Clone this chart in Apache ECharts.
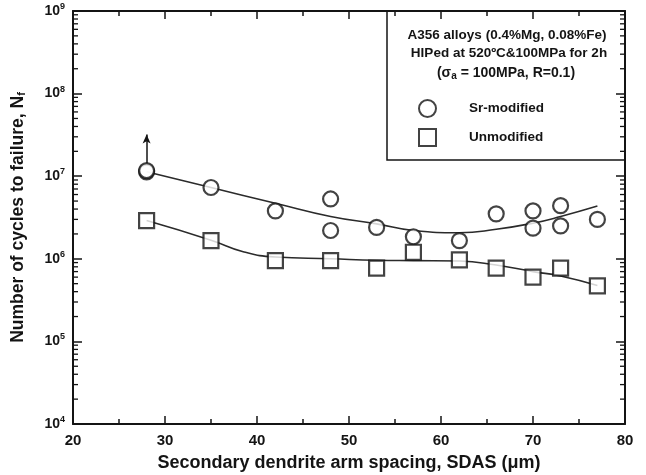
<!DOCTYPE html>
<html>
<head>
<meta charset="utf-8">
<script src="https://cdn.jsdelivr.net/npm/echarts@6/dist/echarts.min.js"></script>
<style>
  html, body { margin: 0; padding: 0; background: #fff; }
  #chart { width: 646px; height: 475px; }
</style>
</head>
<body>
<div id="chart"></div>
<script>
// Measured fatigue lives (cycles to failure) vs. secondary dendrite arm spacing
const sdasSr   = [28, 28, 35, 42, 48, 48, 53, 57, 62, 66, 70, 70, 73, 73, 77];
const cyclesSr = [1.13e7, 1.17e7, 7.3e6, 3.8e6, 5.3e6, 2.2e6, 2.4e6, 1.85e6, 1.66e6, 3.5e6, 3.8e6, 2.35e6, 4.4e6, 2.5e6, 3.0e6];

const sdasUn   = [28, 35, 42, 48, 53, 57, 62, 66, 70, 73, 77];
const cyclesUn = [2.9e6, 1.66e6, 9.5e5, 9.5e5, 7.7e5, 1.2e6, 9.7e5, 7.7e5, 6.0e5, 7.7e5, 4.7e5];

// Trend curves
const trendSrX = [28, 35, 42, 48, 53, 57, 62, 66, 70, 73, 77];
const trendSrY = [1.13e7, 7.3e6, 4.7e6, 3.25e6, 2.65e6, 2.2e6, 2.07e6, 2.28e6, 2.7e6, 3.25e6, 4.35e6];
const trendUnX = [28, 35, 38.5, 42, 48, 53, 57, 62, 66, 70, 73, 77];
const trendUnY = [2.9e6, 1.68e6, 1.22e6, 1.05e6, 1.0e6, 9.6e5, 9.5e5, 9.4e5, 8.4e5, 7.0e5, 6.2e5, 4.75e5];

// Axis ranges and log-axis minor tick positions
const xMin = 20, xMax = 80, xStep = 10;
const yMin = 1e4, yMax = 1e9;
const minorFactors = [2, 3, 4, 5, 6, 7, 8, 9];
const decades = [4, 5, 6, 7, 8];

const minorTickValues = [];
decades.forEach(d => minorFactors.forEach(f => minorTickValues.push([xMin, f * Math.pow(10, d)])));

const FONT = '"Liberation Sans", Arial, sans-serif';
const INK = '#141414';

const chart = echarts.init(document.getElementById('chart'), null, { renderer: 'canvas' });

const markerStyle = { color: '#ffffff', borderColor: INK, borderWidth: 2.2 };

chart.setOption({
  animation: false,
  backgroundColor: '#ffffff',
  grid: { left: 73, top: 11, right: 21, bottom: 51, containLabel: false, outerBoundsMode: 'none' },
  xAxis: [
    {
      type: 'value', min: xMin, max: xMax, interval: xStep,
      name: 'Secondary dendrite arm spacing, SDAS (μm)',
      nameLocation: 'middle', nameGap: 30,
      nameTextStyle: { fontFamily: FONT, fontWeight: 'bold', fontSize: 18, color: INK },
      axisLine: { lineStyle: { color: INK, width: 2 } },
      axisTick: { inside: true, length: 8, lineStyle: { color: INK, width: 1.5 } },
      minorTick: { show: true, splitNumber: 2, length: 5, lineStyle: { color: INK, width: 1.5 } },
      axisLabel: { fontFamily: FONT, fontWeight: 'bold', fontSize: 15, color: INK, margin: 9 },
      splitLine: { show: false }
    },
    {
      type: 'value', min: xMin, max: xMax, interval: xStep, position: 'top',
      axisLine: { onZero: false, lineStyle: { color: INK, width: 2 } },
      axisTick: { inside: true, length: 8, lineStyle: { color: INK, width: 1.5 } },
      minorTick: { show: true, splitNumber: 2, length: 5, lineStyle: { color: INK, width: 1.5 } },
      axisLabel: { show: false },
      splitLine: { show: false }
    }
  ],
  yAxis: [
    {
      type: 'log', min: yMin, max: yMax, logBase: 10,
      name: 'Number of cycles to failure, N{sub|f}',
      nameLocation: 'middle', nameGap: 46, nameRotate: 90,
      nameTextStyle: {
        fontFamily: FONT, fontWeight: 'bold', fontSize: 17.5, color: INK,
        rich: { sub: { fontFamily: FONT, fontWeight: 'bold', fontSize: 11, color: INK, padding: [7, 0, 0, 0] } }
      },
      axisLine: { lineStyle: { color: INK, width: 2 } },
      axisTick: { inside: true, length: 9, lineStyle: { color: INK, width: 1.5 } },
      axisLabel: {
        margin: 8,
        formatter: v => '{b|10}{s|' + Math.round(Math.log10(v)) + '}',
        rich: {
          b: { fontFamily: FONT, fontWeight: 'bold', fontSize: 14, color: INK },
          s: { fontFamily: FONT, fontWeight: 'bold', fontSize: 9, color: INK, padding: [0, 0, 9, 0] }
        }
      },
      splitLine: { show: false }
    },
    {
      type: 'log', min: yMin, max: yMax, logBase: 10, position: 'right',
      axisLine: { onZero: false, lineStyle: { color: INK, width: 2 } },
      axisTick: { inside: true, length: 9, lineStyle: { color: INK, width: 1.5 } },
      axisLabel: { show: false },
      splitLine: { show: false }
    }
  ],
  legend: {
    orient: 'vertical',
    left: 413, top: 94,
    itemWidth: 17, itemHeight: 17, itemGap: 10,
    data: ['Sr-modified', 'Unmodified'],
    textStyle: { fontFamily: FONT, fontWeight: 'bold', fontSize: 13.5, color: INK, padding: [0, 0, 0, 28] }
  },
  graphic: [
    // key box sharing the plot's top and right edges
    {
      type: 'polyline', z: 50,
      shape: { points: [[387, 11], [387, 160], [625, 160]] },
      style: { stroke: INK, lineWidth: 1.5, fill: null }
    },
    {
      type: 'text', z: 50, x: 507, y: 35,
      style: { text: 'A356 alloys (0.4%Mg, 0.08%Fe)', font: 'bold 13.5px ' + FONT, fill: INK, align: 'center', verticalAlign: 'middle' }
    },
    {
      type: 'text', z: 50, x: 509, y: 53,
      style: { text: 'HIPed at 520ºC&100MPa for 2h', font: 'bold 13.5px ' + FONT, fill: INK, align: 'center', verticalAlign: 'middle' }
    },
    {
      type: 'text', z: 50, x: 506, y: 73,
      style: {
        text: '{t|(σ}{s|a}{t| = 100MPa, R=0.1)}',
        align: 'center', verticalAlign: 'middle',
        rich: {
          t: { font: 'bold 14px ' + FONT, fill: INK },
          s: { font: 'bold 10px ' + FONT, fill: INK, padding: [6, 0, 0, 0] }
        }
      }
    }
  ],
  series: [
    {
      name: 'trendSr', type: 'line', xAxisIndex: 0, yAxisIndex: 0,
      data: trendSrX.map((x, i) => [x, trendSrY[i]]),
      smooth: 0.5, symbol: 'none', z: 2,
      lineStyle: { color: '#2b2b2b', width: 1.6 }
    },
    {
      name: 'trendUn', type: 'line', xAxisIndex: 0, yAxisIndex: 0,
      data: trendUnX.map((x, i) => [x, trendUnY[i]]),
      smooth: 0.5, symbol: 'none', z: 2,
      lineStyle: { color: '#2b2b2b', width: 1.6 }
    },
    {
      name: 'Sr-modified', type: 'scatter', xAxisIndex: 0, yAxisIndex: 0,
      data: sdasSr.map((x, i) => [x, cyclesSr[i]]),
      symbol: 'circle', symbolSize: 15, z: 5,
      itemStyle: markerStyle,
      markLine: {
        silent: true, symbol: ['none', 'arrow'], symbolSize: [6, 9],
        label: { show: false },
        lineStyle: { color: INK, width: 1.5, type: 'solid' },
        data: [[{ coord: [28, 1.4e7] }, { coord: [28, 3.2e7] }]]
      }
    },
    {
      name: 'Unmodified', type: 'scatter', xAxisIndex: 0, yAxisIndex: 0,
      data: sdasUn.map((x, i) => [x, cyclesUn[i]]),
      symbol: 'rect', symbolSize: 15, z: 5,
      itemStyle: markerStyle
    },
    {
      // logarithmic minor ticks on the left and right frame edges
      name: 'minorTicks', type: 'custom', xAxisIndex: 0, yAxisIndex: 0,
      data: minorTickValues, silent: true, z: 10, clip: false,
      renderItem: (params, api) => {
        const p = api.coord([api.value(0), api.value(1)]);
        const cs = params.coordSys;
        const len = 5;
        const style = { stroke: INK, lineWidth: 1.3 };
        return {
          type: 'group',
          children: [
            { type: 'line', shape: { x1: cs.x, y1: p[1], x2: cs.x + len, y2: p[1] }, style },
            { type: 'line', shape: { x1: cs.x + cs.width, y1: p[1], x2: cs.x + cs.width - len, y2: p[1] }, style }
          ]
        };
      }
    }
  ]
});
</script>
</body>
</html>
